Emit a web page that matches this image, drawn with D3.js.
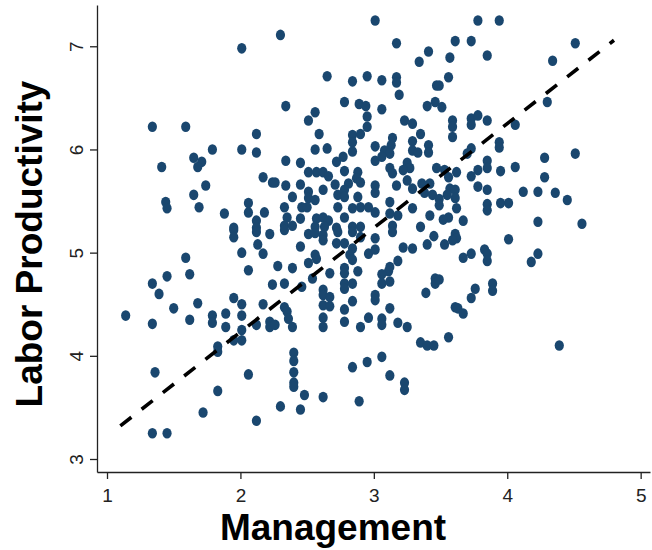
<!DOCTYPE html>
<html>
<head>
<meta charset="utf-8">
<script src="https://cdn.jsdelivr.net/npm/d3@7"></script>
<style>
  body { margin: 0; background: #fff; }
  svg { display: block; font-family: "Liberation Sans", Arial, sans-serif; }
  .axis path, .axis line { stroke: #222; stroke-width: 1.3; }
  .axis text { fill: #222; font-size: 19px; }
  .title { font-weight: bold; font-size: 37px; fill: #000; }
</style>
</head>
<body>
<script>
// management score vs labor productivity
const points = [
  [2.01,6.98],[3.01,7.25],[2.30,7.11],[3.17,7.03],[3.41,6.95],[3.34,6.85],[2.65,6.71],[2.84,6.66],
  [2.95,6.71],[3.06,6.67],[3.17,6.70],[3.17,6.65],[3.19,6.53],[3.47,6.62],[2.34,6.42],[2.56,6.36],
  [2.78,6.46],[2.89,6.44],[2.94,6.42],[2.95,6.32],[3.06,6.39],[3.40,6.42],[3.46,6.46],[2.51,6.28],
  [3.23,6.28],[3.78,7.25],[3.94,7.25],[3.61,7.05],[3.73,7.05],[3.57,6.89],[3.85,6.91],[3.56,6.70],
  [3.49,6.62],[4.34,6.86],[4.51,7.03],[4.30,6.46],[3.51,6.41],[3.59,6.28],[3.73,6.30],[3.78,6.33],
  [3.85,6.28],
  [1.34,6.22],[1.59,6.22],[2.12,6.15],[1.79,6.00],[2.01,6.00],[2.12,5.97],[1.65,5.92],[1.71,5.88],
  [1.68,5.83],[1.41,5.83],[2.17,5.73],[2.24,5.68],[1.74,5.65],[1.65,5.56],[1.44,5.49],[1.45,5.43],
  [1.69,5.44],[1.88,5.38],[2.06,5.48],[2.06,5.39],[2.18,5.39],[2.12,5.31],[1.95,5.24],[2.12,5.24],
  [2.95,6.22],[3.29,6.25],[2.59,6.15],[2.84,6.14],[2.90,6.15],[3.35,6.15],[3.14,6.11],[2.84,6.07],
  [3.01,6.03],[3.29,6.08],[3.41,6.04],[3.13,6.04],[2.56,6.00],[2.65,6.01],[2.84,5.98],[3.08,5.99],
  [3.12,5.96],[3.29,5.99],[3.33,5.97],[3.41,5.97],[2.34,5.89],[2.45,5.87],[2.72,5.88],[2.77,5.93],
  [3.01,5.89],[3.06,5.93],[3.25,5.87],[3.27,5.82],[2.26,5.68],[2.51,5.78],[2.57,5.78],[2.62,5.78],
  [2.66,5.74],[2.78,5.79],[2.88,5.78],[2.87,5.72],[2.90,5.68],[3.12,5.82],[3.14,5.77],[3.22,5.80],
  [3.25,5.70],[3.36,5.67],[3.42,5.67],[3.47,5.82],[2.34,5.65],[2.45,5.66],[2.71,5.66],[2.81,5.67],
  [2.62,5.61],[2.51,5.59],[2.51,5.53],[2.56,5.51],[2.73,5.56],[2.78,5.61],[2.78,5.54],[2.88,5.54],
  [3.01,5.65],[3.01,5.58],[3.01,5.39],[3.17,5.65],[3.29,5.62],[3.38,5.58],[3.44,5.56],[2.39,5.54],
  [2.33,5.44],[2.46,5.44],[2.50,5.44],[2.35,5.34],[2.45,5.33],[2.73,5.44],[2.84,5.43],[2.90,5.44],
  [2.96,5.44],[3.12,5.49],[3.12,5.38],[3.18,5.36],[3.29,5.43],[3.42,5.36],[2.78,5.34],[2.57,5.33],
  [2.62,5.34],[2.66,5.31],[2.33,5.26],[2.39,5.26],[2.56,5.25],[2.63,5.25],[2.72,5.24],[2.84,5.25],
  [2.90,5.25],[3.14,5.26],[3.35,5.25],
  [3.59,6.22],[3.73,6.24],[4.06,6.24],[3.59,6.12],[3.94,6.07],[3.94,6.02],[3.73,6.01],[3.70,5.96],
  [3.85,5.89],[4.06,5.83],[3.85,5.82],[3.78,5.80],[3.73,5.74],[3.62,5.78],[3.53,5.80],[3.56,5.73],
  [3.95,5.79],[4.28,5.92],[4.51,5.96],[4.28,5.73],[3.78,5.64],[3.85,5.61],[3.57,5.62],[3.61,5.61],
  [3.55,5.56],[3.61,5.53],[3.49,5.52],[3.62,5.43],[3.49,5.46],[3.85,5.47],[3.85,5.41],[3.95,5.48],
  [4.01,5.48],[4.12,5.59],[4.23,5.59],[4.36,5.58],[4.45,5.51],[3.56,5.34],[3.52,5.32],[3.67,5.31],
  [4.23,5.30],[4.56,5.28],
  [1.95,5.22],[2.12,5.20],[2.22,5.18],[1.95,5.15],[2.13,5.08],[2.01,5.00],[2.17,4.99],[1.59,4.95],
  [1.62,4.79],[1.45,4.77],[1.34,4.70],[2.06,4.83],[2.24,4.69],[1.39,4.60],[1.50,4.46],[1.68,4.51],
  [1.95,4.56],[2.01,4.50],[2.17,4.50],[1.14,4.39],[1.34,4.31],[1.62,4.35],[1.79,4.39],[1.79,4.32],
  [1.89,4.41],[1.89,4.28],[2.01,4.39],[2.01,4.25],[2.12,4.30],[2.22,4.33],[2.22,4.28],[1.95,4.15],
  [2.01,4.15],
  [2.33,5.22],[2.51,5.18],[2.56,5.19],[2.62,5.17],[2.62,5.12],[2.73,5.20],[2.84,5.20],[2.90,5.15],
  [3.01,5.14],[3.14,5.20],[3.45,5.16],[2.45,5.06],[2.72,5.09],[2.78,5.09],[2.84,5.04],[2.82,4.98],
  [2.84,4.93],[2.96,4.99],[3.01,5.03],[3.22,5.05],[3.29,5.04],[3.40,5.08],[2.56,4.98],[2.57,4.94],
  [2.51,4.90],[2.28,4.87],[2.39,4.85],[2.78,4.85],[2.78,4.80],[2.67,4.80],[2.88,4.82],[3.18,4.92],
  [3.12,4.86],[3.11,4.82],[3.06,4.79],[3.06,4.70],[3.12,4.72],[3.46,4.75],[3.46,4.70],[2.33,4.70],
  [2.54,4.75],[2.46,4.67],[2.62,4.64],[2.62,4.59],[2.67,4.57],[2.78,4.70],[2.78,4.65],[2.84,4.70],
  [3.01,4.59],[3.01,4.54],[2.84,4.53],[2.62,4.49],[2.67,4.48],[2.33,4.47],[2.35,4.43],[2.78,4.45],
  [3.12,4.46],[3.39,4.61],[2.26,4.30],[2.36,4.36],[2.39,4.28],[2.62,4.37],[2.62,4.28],[2.78,4.33],
  [2.90,4.28],[2.96,4.37],[3.06,4.36],[3.06,4.30],[3.18,4.32],[3.25,4.28],[3.35,4.13],[3.40,4.10],
  [3.45,4.10],
  [3.61,5.18],[3.62,5.14],[3.59,5.12],[3.53,5.08],[4.01,5.13],[3.67,4.95],[3.73,4.99],[3.83,5.03],
  [3.85,4.99],[3.85,4.92],[4.18,4.91],[4.23,4.99],[3.49,4.74],[3.76,4.65],[3.73,4.56],[3.89,4.70],
  [3.89,4.63],[3.61,4.47],[3.63,4.46],[3.67,4.41],[3.56,4.18],[4.39,4.10],
  [1.83,4.09],[1.83,4.04],[1.36,3.84],[2.06,3.82],[1.83,3.66],[1.72,3.45],[2.12,3.37],[1.34,3.25],
  [1.45,3.25],
  [2.40,4.03],[2.40,3.95],[2.40,3.84],[2.40,3.74],[2.40,3.70],[2.48,3.62],[2.62,3.60],[2.30,3.51],
  [2.45,3.48],[2.84,3.89],[2.95,3.94],[3.06,3.99],[3.12,3.81],[3.23,3.74],[3.23,3.67],[2.89,3.56]
];

// fitted line: productivity = intercept + slope * management
const fitIntercept = 2.21;
const fitSlope = 1.01;
const fitRange = [1.10, 4.80];

const xTicks = [1, 2, 3, 4, 5];
const yTicks = [3, 4, 5, 6, 7];
const xTitle = "Management";
const yTitle = "Labor Productivity";

const width = 652, height = 550;

const svg = d3.select('body').append('svg')
    .attr('width', width)
    .attr('height', height);

// axis extents reach a bit past the first/last tick, like the original
const xScale = d3.scaleLinear().domain([0.925, 5.07]).range([97, 650]);
const yScale = d3.scaleLinear().domain([2.874, 7.40]).range([472, 5]);

// points
svg.append('g')
    .selectAll('ellipse')
    .data(points)
    .enter().append('ellipse')
    .attr('cx', d => xScale(d[0]))
    .attr('cy', d => yScale(d[1]))
    .attr('rx', 4.6)
    .attr('ry', 5.3)
    .attr('fill', '#1a476f');

// dashed fit line
const line = d3.line()
    .x(d => xScale(d))
    .y(d => yScale(fitIntercept + fitSlope * d));

svg.append('path')
    .datum(fitRange)
    .attr('d', line)
    .attr('fill', 'none')
    .attr('stroke', '#000')
    .attr('stroke-width', 3.6)
    .attr('stroke-dasharray', '14,13');

// axes
const xAxis = d3.axisBottom(xScale)
    .tickValues(xTicks)
    .tickSize(7)
    .tickSizeOuter(0)
    .tickFormat(d3.format('d'));

const yAxis = d3.axisLeft(yScale)
    .tickValues(yTicks)
    .tickSize(7)
    .tickSizeOuter(0)
    .tickFormat(d3.format('d'));

const xAxisG = svg.append('g')
    .attr('class', 'axis')
    .attr('transform', 'translate(0,472)')
    .call(xAxis);
xAxisG.selectAll('text')
    .attr('y', 30)
    .attr('dy', 0);

const yAxisG = svg.append('g')
    .attr('class', 'axis')
    .attr('transform', 'translate(97,0)')
    .call(yAxis);
yAxisG.selectAll('text')
    .attr('x', 0)
    .attr('dy', 0)
    .attr('text-anchor', 'middle')
    .attr('transform', 'translate(-14,0) rotate(-90)');

svg.selectAll('.axis text').attr('font-family', null).attr('font-size', null);

// titles
svg.append('text')
    .attr('class', 'title')
    .attr('x', 333)
    .attr('y', 540)
    .attr('text-anchor', 'middle')
    .text(xTitle);

svg.append('text')
    .attr('class', 'title')
    .attr('text-anchor', 'middle')
    .attr('transform', 'translate(42,244) rotate(-90)')
    .text(yTitle);
</script>
</body>
</html>
